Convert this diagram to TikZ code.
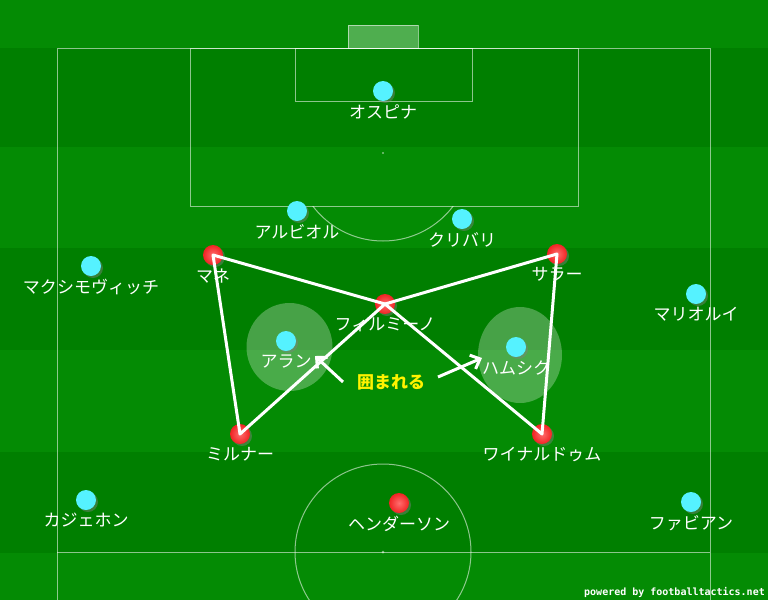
\documentclass[tikz,border=0pt]{standalone}
\usepackage{fontspec}
\newfontfamily\jpfont{Noto Sans CJK JP}
\setmonofont{DejaVu Sans Mono}
\usepackage{tikz}
\usetikzlibrary{calc,shadows,arrows.meta,positioning}
\definecolor{turfdark}{RGB}{0,127,0}
\definecolor{turflight}{RGB}{4,139,4}
\definecolor{mycyan}{RGB}{85,242,255}
\definecolor{myred}{RGB}{240,35,35}
\definecolor{mylightred}{RGB}{255,110,110}
\tikzstyle{pitchline}=[draw=white,draw opacity=0.55,line width=1pt]
\tikzstyle{napoli}=[circle,inner sep=0pt,minimum size=20pt,fill=mycyan,drop shadow={shadow xshift=2pt,shadow yshift=-2pt,opacity=0.45}]
\tikzstyle{liverpool}=[circle,inner sep=0pt,minimum size=20pt,inner color=mylightred,outer color=myred,drop shadow={shadow xshift=2pt,shadow yshift=-2pt,opacity=0.45}]
\tikzstyle{playername}=[inner sep=0pt,text=white,font=\jpfont\fontsize{17}{17}\selectfont]
\tikzstyle{pass}=[white,line width=3pt,line join=round,line cap=round]
\tikzstyle{zone}=[fill=white,fill opacity=0.28]
\tikzstyle{pointer}=[white,line width=3pt,-{Straight Barb[length=8pt,width=15pt]}]

\begin{document}
\begin{tikzpicture}[x=1pt,y=-1pt]
\useasboundingbox (0,0) rectangle (768,600);
\clip (0,0) rectangle (768,600);
\foreach \from/\to/\turf in {0/48/turflight,48/147/turfdark,147/248/turflight,248/350/turfdark,350/452/turflight,452/553/turfdark,553/600/turflight}
  \fill[\turf] (0,\from) rectangle (768,\to);
\draw[pitchline] (57,600) -- (57,48) -- (710,48) -- (710,600);
\draw[pitchline] (57,552) -- (710,552);
\draw[pitchline] (190,48) rectangle (578,206);
\draw[pitchline] (295,48) rectangle (472,101);
\draw[pitchline,fill=white,fill opacity=0.3] (348,25) rectangle (418,48);
\draw[pitchline] (383,552) circle[radius=88];
\begin{scope}
  \clip (57,206) rectangle (710,300);
  \draw[pitchline] (383,153) circle[radius=88];
\end{scope}
\fill[white,opacity=0.5] (383,153) circle[radius=1.2];
\fill[white,opacity=0.5] (383,552) circle[radius=1.5];
\fill[zone] (289.5,347) ellipse[x radius=43,y radius=44];
\fill[zone] (520,355) ellipse[x radius=42,y radius=48];

\node[napoli] (ospina) at (383,91) {};
\node[napoli] (albiol) at (297,211) {};
\node[napoli] (koulibaly) at (462,219) {};
\node[napoli] (maksimovic) at (91,266) {};
\node[napoli] (mario) at (696,294) {};
\node[napoli] (allan) at (286,341) {};
\node[napoli] (hamsik) at (516,347) {};
\node[napoli] (callejon) at (86,500) {};
\node[napoli] (fabian) at (691,502) {};
\node[liverpool] (mane) at (213,255) {};
\node[liverpool] (salah) at (557,254) {};
\node[liverpool] (firmino) at (385,304) {};
\node[liverpool] (milner) at (240,434) {};
\node[liverpool] (wijnaldum) at (542,434) {};
\node[liverpool] (henderson) at (399,503) {};

\node[playername,below=3pt of ospina] (ospinaname) {オスピナ};
\node[playername,below=3pt of albiol] (albiolname) {アルビオル};
\node[playername,below=3pt of koulibaly] (koulibalyname) {クリバリ};
\node[playername,below=3pt of maksimovic] (maksimovicname) {マクシモヴィッチ};
\node[playername,below=3pt of mario] (marioname) {マリオルイ};
\node[playername,below=3pt of allan] (allanname) {アラン};
\node[playername,below=3pt of hamsik] (hamsikname) {ハムシク};
\node[playername,below=3pt of callejon] (callejonname) {カジェホン};
\node[playername,below=3pt of fabian] (fabianname) {ファビアン};
\node[playername,below=3pt of mane] (manename) {マネ};
\node[playername,below=3pt of salah] (salahname) {サラー};
\node[playername,below=3pt of firmino] (firminoname) {フィルミーノ};
\node[playername,below=3pt of milner] (milnername) {ミルナー};
\node[playername,below=3pt of wijnaldum] (wijnaldumname) {ワイナルドゥム};
\node[playername,below=3pt of henderson] (hendersonname) {ヘンダーソン};

\draw[pass] (mane.center) -- (firmino.center) -- (milner.center) -- cycle;
\draw[pass] (salah.center) -- (firmino.center) -- (wijnaldum.center) -- cycle;

\node[inner sep=0pt,text=yellow,font=\jpfont\bfseries\fontsize{17}{17}\selectfont] (surrounded) at (391,382) {囲まれる};
\coordinate (leftfrom) at (343,382);
\coordinate (leftto) at (315,356);
\coordinate (rightfrom) at (438,377);
\coordinate (rightto) at (482,358);
\draw[pointer] (leftfrom) -- (leftto);
\draw[pointer] (rightfrom) -- (rightto);

\node[inner sep=0pt,text=white,font=\ttfamily\bfseries\fontsize{10}{10}\selectfont,anchor=east] (credit) at (765,592) {powered by footballtactics.net};
\end{tikzpicture}
\end{document}
